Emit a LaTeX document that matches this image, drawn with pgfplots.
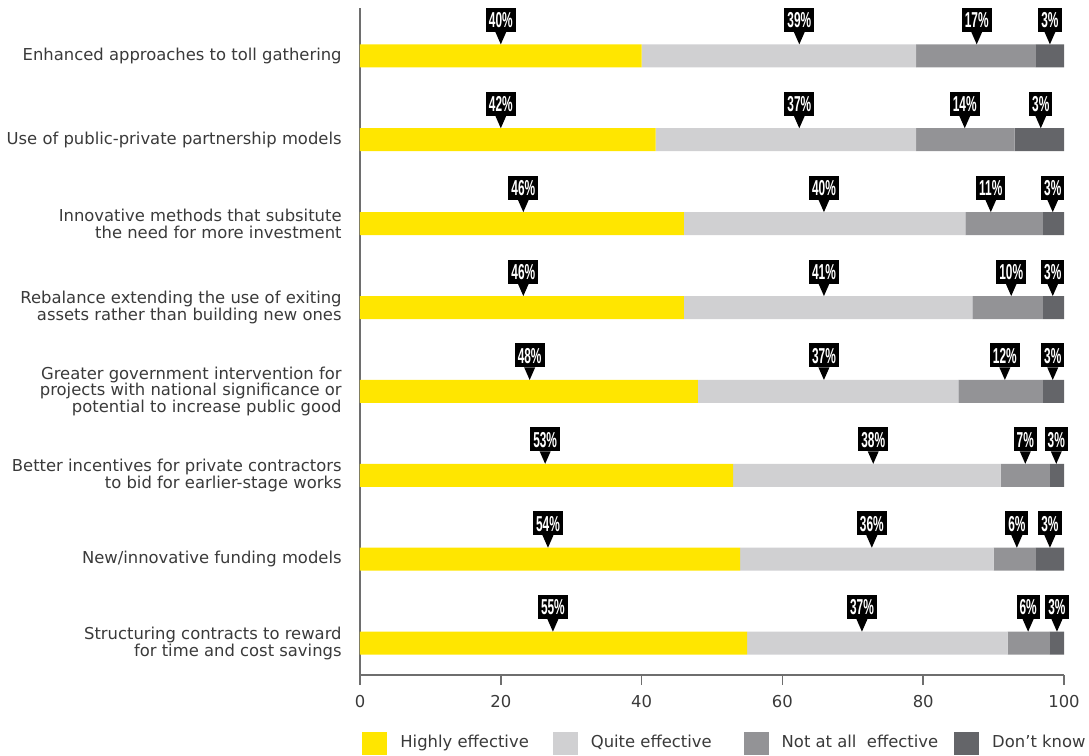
\documentclass[border=0pt]{standalone}
\usepackage{fontspec}
\setmainfont{DejaVu Sans}
\newfontfamily\condfont{Liberation Sans}[FakeStretch=0.55]
\usepackage{pgfplots}
\pgfplotsset{compat=1.18}
\usepackage{pgfplotstable}

\definecolor{eyyellow}{HTML}{FFE600}
\definecolor{quitegray}{HTML}{D0D0D2}
\definecolor{notgray}{HTML}{939396}
\definecolor{dkgray}{HTML}{646569}
\definecolor{axisgray}{HTML}{6E6E6E}
\definecolor{labelcol}{HTML}{3A3A3A}

% downward pointer of a callout: apex on the top edge of the bar
\pgfdeclareplotmark{callptr}{%
  \pgfpathmoveto{\pgfpoint{-2.75pt}{12pt}}%
  \pgfpathlineto{\pgfpoint{2.75pt}{12pt}}%
  \pgfpathlineto{\pgfpoint{0pt}{5.75pt}}%
  \pgfpathclose
  \pgfusepathqfill}

% bar segments as drawn (row 0 = top)
\pgfplotstableread{
y high quite notat dontknow
0 40 39 17 4
1 42 37 14 7
2 46 40 11 3
3 46 41 10 3
4 48 37 12 3
5 53 38 7 2
6 54 36 6 4
7 55 37 6 2
}\bars

% callout labels: position on the bar, row, printed value
\pgfplotstableread{
x y lab
20.0 0 40
62.4 0 39
87.6 0 17
98.0 0 3
20.0 1 42
62.4 1 37
85.9 1 14
96.7 1 3
23.2 2 46
65.9 2 40
89.6 2 11
98.4 2 3
23.2 3 46
65.9 3 41
92.5 3 10
98.4 3 3
24.1 4 48
65.9 4 37
91.6 4 12
98.4 4 3
26.3 5 53
72.9 5 38
94.5 5 7
98.9 5 3
26.7 6 54
72.7 6 36
93.3 6 6
98.0 6 3
27.4 7 55
71.3 7 37
94.9 7 6
99.0 7 3
}\callouts

\begin{document}
\begin{tikzpicture}
\begin{axis}[
    name=main,
    scale only axis,
    width=352pt, height=333.5pt,
    xbar stacked,
    bar width=11.5pt,
    xmin=0, xmax=100,
    ymin=-0.57, ymax=7.38,
    y dir=reverse,
    axis x line*=bottom,
    axis y line*=left,
    axis line style={axisgray, line width=0.75pt},
    xtick={0,20,...,100},
    tick align=outside,
    major tick length=5pt,
    xtick style={axisgray, line width=0.75pt},
    ytick={0,...,7},
    ytick style={draw=none},
    yticklabels={
        Enhanced approaches to toll gathering,
        Use of public-private partnership models,
        Innovative methods that subsitute\\the need for more investment,
        Rebalance extending the use of exiting\\assets rather than building new ones,
        Greater government intervention for\\projects with national significance or\\potential to increase public good,
        Better incentives for private contractors\\to bid for earlier-stage works,
        New/innovative funding models,
        Structuring contracts to reward\\for time and cost savings},
    yticklabel style={align=right, inner sep=0pt, xshift=-4pt,
        font=\fontsize{8.2}{8.35}\selectfont, text=labelcol},
    xticklabel style={font=\fontsize{8.2}{9}\selectfont, text=labelcol, yshift=-1.5pt},
    /pgf/number format/assume math mode=true,
    legend columns=-1,
    legend style={at={(0,-0.102)}, anchor=west, xshift=1pt, draw=none, inner sep=0pt,
        font=\fontsize{8.2}{9}\selectfont, text=labelcol,
        /tikz/every odd column/.append style={column sep=4.5pt},
        /tikz/every even column/.append style={column sep=10pt}},
    legend image code/.code={\fill[#1] (0pt,-5.75pt) rectangle (12.5pt,5.75pt);},
    legend cell align=left,
]
\addplot[fill=eyyellow, draw=none] table[x=high, y=y] {\bars};
\addplot[fill=quitegray, draw=none] table[x=quite, y=y] {\bars};
\addplot[fill=notgray, draw=none] table[x=notat, y=y] {\bars};
\addplot[fill=dkgray, draw=none] table[x=dontknow, y=y] {\bars};
\legend{Highly effective, Quite effective\kern4pt, Not at all\ \ effective\kern-4pt, Don’t know}
\end{axis}

\begin{axis}[
    scale only axis,
    width=352pt, height=333.5pt,
    xmin=0, xmax=100,
    ymin=-0.57, ymax=7.38,
    y dir=reverse,
    hide axis,
    clip=false,
]
\addplot[only marks, mark=callptr, mark options={fill=black, draw=none},
    point meta=explicit symbolic,
    nodes near coords={\pgfplotspointmeta\%},
    every node near coord/.append style={fill=black, text=white,
        font=\condfont\bfseries\fontsize{10.8}{10.8}\selectfont,
        inner xsep=1.5pt, inner ysep=2.1pt, text height=7.8pt, text depth=0pt,
        anchor=south, yshift=11.8pt},
] table[x=x, y=y, meta=lab] {\callouts};
\end{axis}

\pgfresetboundingbox
\path[use as bounding box] ([shift={(-180pt,-40pt)}]main.south west) rectangle ([shift={(12.5pt,4pt)}]main.north east);
\end{tikzpicture}
\end{document}
